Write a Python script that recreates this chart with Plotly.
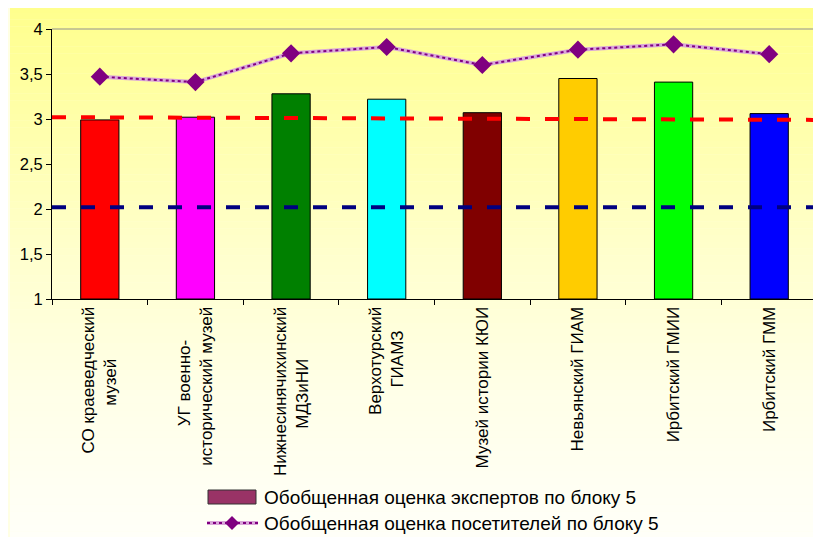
import plotly.graph_objects as go

NB = "\u00a0"
categories = [
    "СО краеведческий<br>музей" + NB * 11,
    "УГ военно-" + NB * 7 + "<br>исторический музей",
    "Нижнесинячихинский<br>МДЗиНИ" + NB * 11,
    "Верхотурский<br>ГИАМЗ" + NB * 5,
    "Музей истории КЮИ",
    "Невьянский ГИАМ",
    "Ирбитский ГМИИ",
    "Ирбитский ГММ",
]
experts = [2.99, 3.02, 3.28, 3.22, 3.07, 3.45, 3.41, 3.06]
visitors = [3.47, 3.41, 3.73, 3.80, 3.60, 3.77, 3.83, 3.72]
bar_colors = ["#FF0000", "#FF00FF", "#008000", "#00FFFF", "#800000", "#FFCC00", "#00FF00", "#0000FF"]
red_ref = [3.02, 2.99]   # left, right end
blue_ref = [2.02, 2.02]
y_ticks = [1, 1.5, 2, 2.5, 3, 3.5, 4]
legend_names = ["Обобщенная оценка экспертов по блоку 5",
                "Обобщенная оценка посетителей по блоку 5"]

FONT = "Liberation Sans, Arial, sans-serif"

# page offset (browser body margin) and layout geometry in figure pixels
OFF = 8
L, T = 44, 21
W, H = 821, 537
PLOT_BOT = 291
R = 12
PW = W - L - R
PH = PLOT_BOT - T


def px(sx):
    return (sx - OFF - L) / PW


def py(sy):
    return (PLOT_BOT - (sy - OFF)) / PH


fig = go.Figure()
fig.add_trace(go.Bar(
    x=categories, y=[v - 1 for v in experts], base=1, width=0.4,
    marker=dict(color=bar_colors, line=dict(color="#000000", width=1)),
    showlegend=False, name=legend_names[0],
))
fig.add_trace(go.Scatter(
    x=categories, y=visitors, mode="lines",
    line=dict(color="#D9A6D9", width=4), showlegend=False, hoverinfo="skip",
))
fig.add_trace(go.Scatter(
    x=categories, y=visitors, mode="lines+markers", showlegend=False,
    name=legend_names[1],
    line=dict(color="#800080", width=2, dash="dot"),
    marker=dict(symbol="diamond", size=14, color="#800080"),
))

shapes = []
# gradient background bands (screen px stops)
stops = [(6, 140), (255, 205), (395, 232), (545, 249)]


def blue_at(sy):
    for (a, ca), (b, cb) in zip(stops[:-1], stops[1:]):
        if sy <= b:
            return ca + (cb - ca) * (sy - a) / (b - a)
    return stops[-1][1]


n = 80
top_s, bot_s = 6, 545
for i in range(n):
    s0 = top_s + (bot_s - top_s) * i / n
    s1 = top_s + (bot_s - top_s) * (i + 1) / n
    b = round(blue_at((s0 + s1) / 2))
    shapes.append(dict(
        type="rect", xref="paper", yref="paper", layer="below",
        x0=px(10), x1=px(830), y0=py(s1) - 0.001, y1=py(s0),
        fillcolor="rgb(255,255,%d)" % b, line=dict(width=0),
    ))
# top border of plot area
shapes.append(dict(type="line", xref="paper", yref="paper", x0=0, x1=1, y0=1, y1=1,
                   line=dict(color="#909090", width=1)))
# reference lines
shapes.append(dict(type="line", xref="paper", yref="y", x0=0, x1=1, y0=red_ref[0], y1=red_ref[1],
                   line=dict(color="#FF0000", width=4, dash="14px,15px"), layer="above"))
shapes.append(dict(type="line", xref="paper", yref="y", x0=0, x1=1, y0=blue_ref[0], y1=blue_ref[1],
                   line=dict(color="#000080", width=4, dash="14px,15px"), layer="above"))

# manual legend symbols
shapes.append(dict(type="rect", xref="paper", yref="paper", x0=px(208), x1=px(256),
                   y0=py(504), y1=py(490), fillcolor="#993366",
                   line=dict(color="#333333", width=1)))
shapes.append(dict(type="line", xref="paper", yref="paper", x0=px(207), x1=px(258),
                   y0=py(523), y1=py(523), line=dict(color="#D9A6D9", width=4)))
shapes.append(dict(type="line", xref="paper", yref="paper", x0=px(207), x1=px(258),
                   y0=py(523), y1=py(523), line=dict(color="#800080", width=2, dash="dot")))
shapes.append(dict(type="path", xref="paper", yref="paper",
                   path="M %f %f L %f %f L %f %f L %f %f Z" % (
                       px(232), py(516), px(239), py(523), px(232), py(530), px(225), py(523)),
                   fillcolor="#800080", line=dict(width=0)))

annotations = [
    dict(text=legend_names[0], xref="paper", yref="paper", x=px(262), y=py(497),
         xanchor="left", yanchor="middle", showarrow=False, font=dict(size=19, family=FONT)),
    dict(text=legend_names[1], xref="paper", yref="paper", x=px(262), y=py(523),
         xanchor="left", yanchor="middle", showarrow=False, font=dict(size=19, family=FONT)),
]

fig.update_layout(
    width=W, height=H,
    margin=dict(l=L, r=R, t=T, b=H - PLOT_BOT, autoexpand=False),
    paper_bgcolor="#FFFFE4",
    plot_bgcolor="rgba(0,0,0,0)",
    separators=", ",
    barmode="overlay",
    font=dict(family=FONT, color="#000000", size=16),
    shapes=shapes,
    annotations=annotations,
    showlegend=False,
    xaxis=dict(
        range=[-0.5, 7.5], showgrid=False, showline=True, linecolor="#000000", linewidth=1,
        ticks="outside", tickson="boundaries", ticklen=5, tickcolor="#000000",
        tickangle=-90, tickfont=dict(size=17, family=FONT), automargin=False,
    ),
    yaxis=dict(
        range=[1, 4], tickvals=y_ticks, showgrid=False, showline=True, linecolor="#000000",
        linewidth=1, ticks="outside", ticklen=5, tickcolor="#000000", zeroline=False,
        tickfont=dict(size=16.5, family=FONT), automargin=False,
    ),
)

fig.write_html("out.html")
